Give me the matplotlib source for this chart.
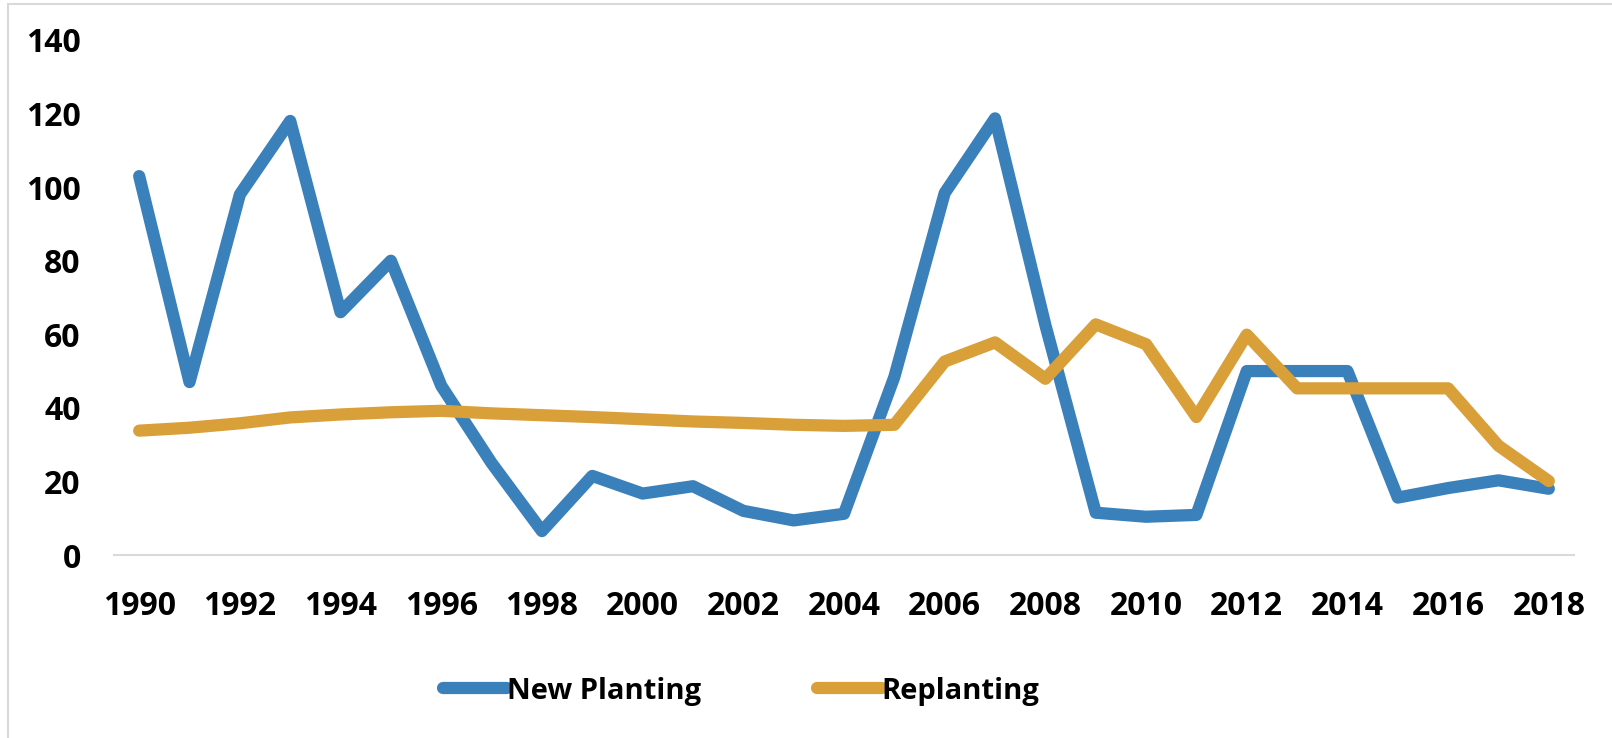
import matplotlib
matplotlib.use("Agg")
import matplotlib.pyplot as plt
from matplotlib.patches import Rectangle

# Annual planting areas
years = list(range(1990, 2019))
new_planting = [103, 47, 98, 118, 66, 80, 46, 25, 6.5, 21.5,
                16.7, 18.7, 12, 9.4, 11.2, 48.4, 98.4, 118.7, 62.5, 11.5,
                10.4, 10.9, 50, 50, 50, 15.6, 18.2, 20.3, 18]
replanting = [33.8, 34.6, 35.8, 37.4, 38.2, 38.8, 39.2, 38.5, 38, 37.5,
              36.9, 36.3, 35.9, 35.4, 35.1, 35.4, 52.6, 57.8, 47.9, 62.7,
              57.3, 37.5, 59.9, 45.3, 45.3, 45.3, 45.3, 29.7, 20.1]
tick_labels = [str(y) if y % 2 == 0 else "" for y in years]

blue = "#3A80BA"
orange = "#D99F38"
grey = "#D9D9D9"

plt.rcParams['font.family'] = ['Open Sans', 'DejaVu Sans']
plt.rcParams['font.weight'] = 'bold'

fig = plt.figure(figsize=(16.12, 7.38), dpi=100)
ax = fig.add_axes([114 / 1612, 1 - 555 / 738, 1460 / 1612, 515 / 738])

x = range(len(years))
ax.plot(x, new_planting, color=blue, lw=8.8, solid_capstyle='round',
        solid_joinstyle='round', label='New Planting')
ax.plot(x, replanting, color=orange, lw=8.8, solid_capstyle='round',
        solid_joinstyle='round', label='Replanting')

ax.set_xlim(-0.5, len(years) - 0.5)
ax.set_ylim(0, 140)
ax.set_yticks(range(0, 141, 20))
ax.set_xticks(list(x))
ax.set_xticklabels(tick_labels)

for side in ['top', 'right', 'left']:
    ax.spines[side].set_visible(False)
ax.spines['bottom'].set_color(grey)
ax.spines['bottom'].set_linewidth(1.5)
ax.tick_params(axis='both', length=0, labelsize=23, colors='black')
ax.tick_params(axis='x', pad=25)
ax.tick_params(axis='y', pad=24)
for lbl in ax.get_xticklabels() + ax.get_yticklabels():
    lbl.set_fontweight('bold')

leg = fig.legend(loc='center', bbox_to_anchor=(741 / 1612, 1 - 691 / 738),
                 ncol=2, frameon=False, handlelength=2.2, handletextpad=0.0,
                 columnspacing=4.0, prop={'size': 21, 'weight': 'bold'})
for h in leg.get_lines():
    h.set_linewidth(8.8)
    h.set_solid_capstyle('round')

# light outer frame
fig.patches.append(Rectangle((8 / 1612, -0.1), 1.2, 1 - 4 / 738 + 0.1,
                             transform=fig.transFigure, fill=False,
                             edgecolor=grey, lw=1.5))

fig.savefig("out.png", dpi=100, facecolor='white')
